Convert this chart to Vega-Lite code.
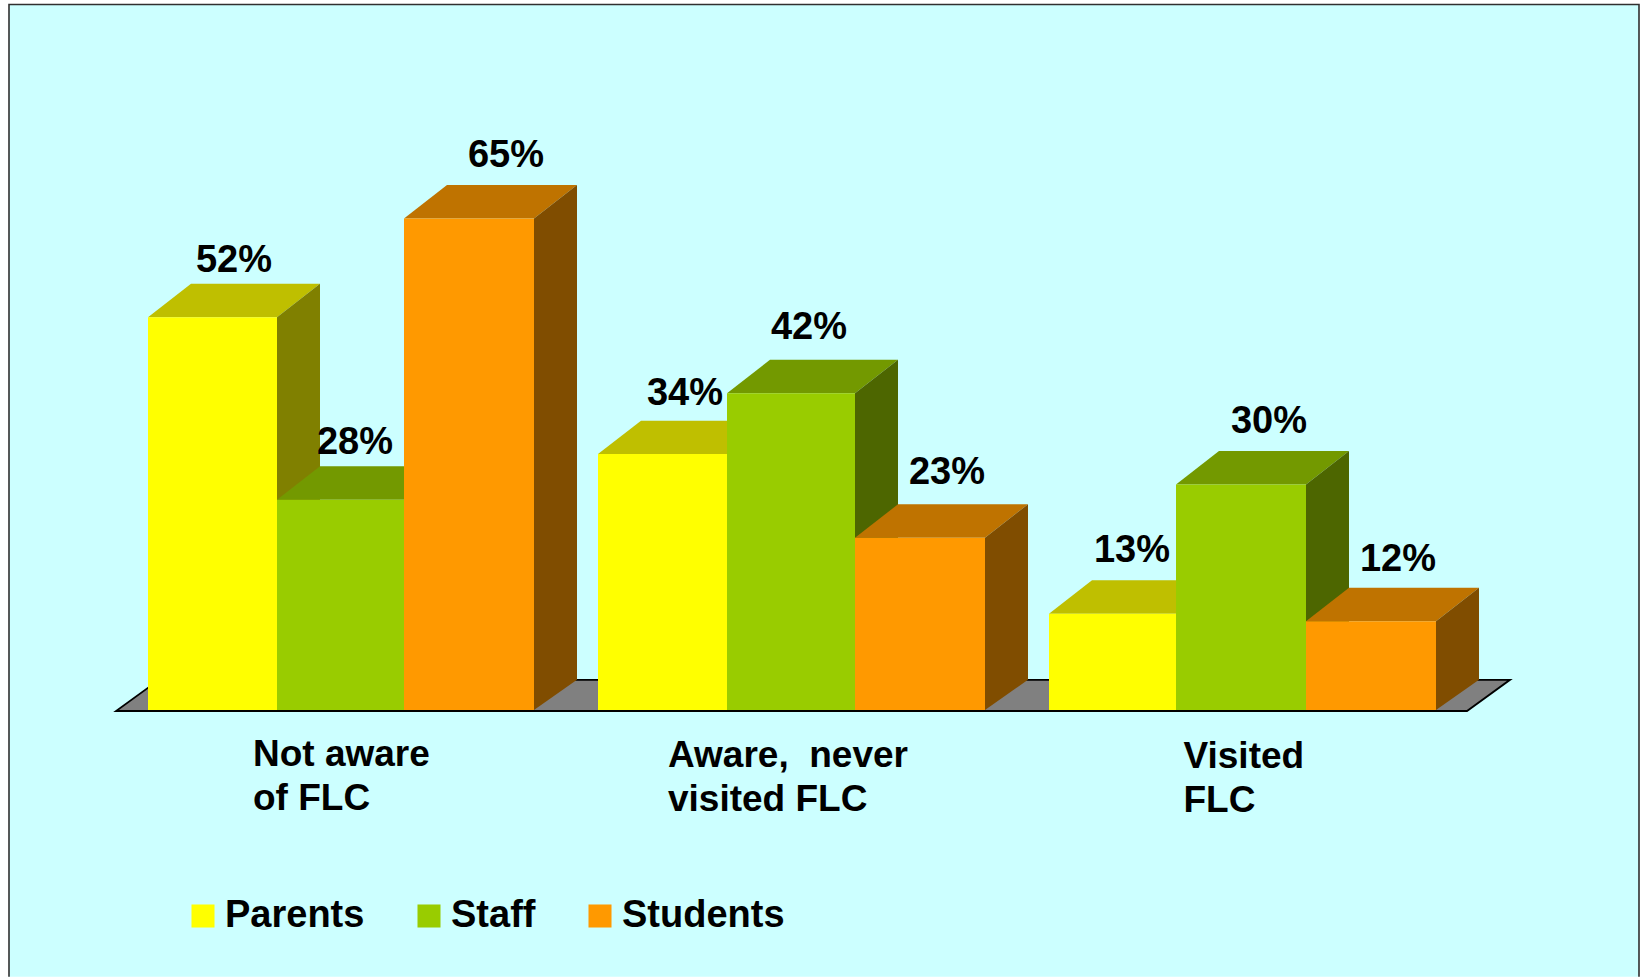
{
"$schema":"https://vega.github.io/schema/vega-lite/v6.json",
"autosize":{"type":"none"},
"width":1643,"height":977,"padding":0,"background":"#ffffff",
"config":{"view":{"stroke":null}},
"datasets":{
"frame":[{"x":0.09,"x2":16.39,"y":-34.76,"y2":93.16}],
"border":[{"seq":1,"x":0.09,"y":-34.76},{"seq":2,"x":0.09,"y":93.16},{"seq":3,"x":16.39,"y":93.16},{"seq":4,"x":16.39,"y":-34.76}],
"floor":[{"x":1.16,"y":0.2,"y2":0.2},{"x":1.59,"y":0.2,"y2":4.3},{"x":14.67,"y":0.2,"y2":4.3},{"x":15.1,"y":4.3,"y2":4.3}],
"bars":[
{"group":"Not aware of FLC","series":"Parents","value":52,"label":"52%","x0":1.48,"x1":2.77,"labelX":2.34,"labelY":58.0},
{"group":"Not aware of FLC","series":"Staff","value":28,"label":"28%","x0":2.77,"x1":4.04,"labelX":3.55,"labelY":34.0},
{"group":"Not aware of FLC","series":"Students","value":65,"label":"65%","x0":4.04,"x1":5.34,"labelX":5.06,"labelY":71.8},
{"group":"Aware, never visited FLC","series":"Parents","value":34,"label":"34%","x0":5.98,"x1":7.27,"labelX":6.85,"labelY":40.5},
{"group":"Aware, never visited FLC","series":"Staff","value":42,"label":"42%","x0":7.27,"x1":8.55,"labelX":8.09,"labelY":49.15},
{"group":"Aware, never visited FLC","series":"Students","value":23,"label":"23%","x0":8.55,"x1":9.85,"labelX":9.47,"labelY":30.07},
{"group":"Visited FLC","series":"Parents","value":13,"label":"13%","x0":10.49,"x1":11.76,"labelX":11.32,"labelY":19.8},
{"group":"Visited FLC","series":"Staff","value":30,"label":"30%","x0":11.76,"x1":13.06,"labelX":12.69,"labelY":36.8},
{"group":"Visited FLC","series":"Students","value":12,"label":"12%","x0":13.06,"x1":14.36,"labelX":13.98,"labelY":18.66}
],
"categories":[
{"text":"Not aware\nof FLC","x":2.53,"y":-7.04},
{"text":"Aware, \u00a0never\nvisited FLC","x":6.68,"y":-7.17},
{"text":"Visited\nFLC","x":11.835,"y":-7.3}
],
"faces":[
{"id":"p1t","shade":"Parents top","x":1.48,"y":52,"y2":52},{"id":"p1t","shade":"Parents top","x":1.91,"y":52,"y2":56.4},{"id":"p1t","shade":"Parents top","x":2.77,"y":52,"y2":56.4},{"id":"p1t","shade":"Parents top","x":3.2,"y":56.4,"y2":56.4},
{"id":"p1s","shade":"Parents side","x":2.77,"y":0.33,"y2":52},{"id":"p1s","shade":"Parents side","x":3.2,"y":4.3,"y2":56.4},
{"id":"p2t","shade":"Parents top","x":5.98,"y":34,"y2":34},{"id":"p2t","shade":"Parents top","x":6.41,"y":34,"y2":38.4},{"id":"p2t","shade":"Parents top","x":7.27,"y":34,"y2":38.4},{"id":"p2t","shade":"Parents top","x":7.7,"y":38.4,"y2":38.4},
{"id":"p2s","shade":"Parents side","x":7.27,"y":0.33,"y2":34},{"id":"p2s","shade":"Parents side","x":7.7,"y":4.3,"y2":38.4},
{"id":"p3t","shade":"Parents top","x":10.49,"y":13,"y2":13},{"id":"p3t","shade":"Parents top","x":10.92,"y":13,"y2":17.4},{"id":"p3t","shade":"Parents top","x":11.76,"y":13,"y2":17.4},{"id":"p3t","shade":"Parents top","x":12.19,"y":17.4,"y2":17.4},
{"id":"p3s","shade":"Parents side","x":11.76,"y":0.33,"y2":13},{"id":"p3s","shade":"Parents side","x":12.19,"y":4.3,"y2":17.4},
{"id":"s1t","shade":"Staff top","x":2.77,"y":28,"y2":28},{"id":"s1t","shade":"Staff top","x":3.2,"y":28,"y2":32.4},{"id":"s1t","shade":"Staff top","x":4.04,"y":28,"y2":32.4},{"id":"s1t","shade":"Staff top","x":4.47,"y":32.4,"y2":32.4},
{"id":"s1s","shade":"Staff side","x":4.04,"y":0.33,"y2":28},{"id":"s1s","shade":"Staff side","x":4.47,"y":4.3,"y2":32.4},
{"id":"s2t","shade":"Staff top","x":7.27,"y":42,"y2":42},{"id":"s2t","shade":"Staff top","x":7.7,"y":42,"y2":46.4},{"id":"s2t","shade":"Staff top","x":8.55,"y":42,"y2":46.4},{"id":"s2t","shade":"Staff top","x":8.98,"y":46.4,"y2":46.4},
{"id":"s2s","shade":"Staff side","x":8.55,"y":0.33,"y2":42},{"id":"s2s","shade":"Staff side","x":8.98,"y":4.3,"y2":46.4},
{"id":"s3t","shade":"Staff top","x":11.76,"y":30,"y2":30},{"id":"s3t","shade":"Staff top","x":12.19,"y":30,"y2":34.4},{"id":"s3t","shade":"Staff top","x":13.06,"y":30,"y2":34.4},{"id":"s3t","shade":"Staff top","x":13.49,"y":34.4,"y2":34.4},
{"id":"s3s","shade":"Staff side","x":13.06,"y":0.33,"y2":30},{"id":"s3s","shade":"Staff side","x":13.49,"y":4.3,"y2":34.4},
{"id":"t1t","shade":"Students top","x":4.04,"y":65,"y2":65},{"id":"t1t","shade":"Students top","x":4.47,"y":65,"y2":69.4},{"id":"t1t","shade":"Students top","x":5.34,"y":65,"y2":69.4},{"id":"t1t","shade":"Students top","x":5.77,"y":69.4,"y2":69.4},
{"id":"t1s","shade":"Students side","x":5.34,"y":0.33,"y2":65},{"id":"t1s","shade":"Students side","x":5.77,"y":4.3,"y2":69.4},
{"id":"t2t","shade":"Students top","x":8.55,"y":23,"y2":23},{"id":"t2t","shade":"Students top","x":8.98,"y":23,"y2":27.4},{"id":"t2t","shade":"Students top","x":9.85,"y":23,"y2":27.4},{"id":"t2t","shade":"Students top","x":10.28,"y":27.4,"y2":27.4},
{"id":"t2s","shade":"Students side","x":9.85,"y":0.33,"y2":23},{"id":"t2s","shade":"Students side","x":10.28,"y":4.3,"y2":27.4},
{"id":"t3t","shade":"Students top","x":13.06,"y":12,"y2":12},{"id":"t3t","shade":"Students top","x":13.49,"y":12,"y2":16.4},{"id":"t3t","shade":"Students top","x":14.36,"y":12,"y2":16.4},{"id":"t3t","shade":"Students top","x":14.79,"y":16.4,"y2":16.4},
{"id":"t3s","shade":"Students side","x":14.36,"y":0.33,"y2":12},{"id":"t3s","shade":"Students side","x":14.79,"y":4.3,"y2":16.4}
]
},
"resolve":{"scale":{"color":"independent"}},
"layer":[
{"data":{"name":"frame"},"mark":{"type":"rect","fill":"#CCFFFF"},
 "encoding":{"x":{"field":"x","type":"quantitative","scale":{"domain":[0,16.43],"nice":false,"zero":false},"axis":null},"x2":{"field":"x2"},
 "y":{"field":"y","type":"quantitative","scale":{"domain":[-34.8,93.75],"nice":false,"zero":false},"axis":null},"y2":{"field":"y2"}}},
{"data":{"name":"border"},"mark":{"type":"line","stroke":"#303030","strokeWidth":1.6},
 "encoding":{"x":{"field":"x","type":"quantitative"},"y":{"field":"y","type":"quantitative"},"order":{"field":"seq","type":"quantitative"}}},
{"data":{"name":"floor"},"mark":{"type":"area","fill":"#808080","stroke":"#000000","strokeWidth":1.8},
 "encoding":{"x":{"field":"x","type":"quantitative"},"y":{"field":"y","type":"quantitative"},"y2":{"field":"y2"}}},
{"data":{"name":"faces"},"mark":{"type":"area"},
 "encoding":{"x":{"field":"x","type":"quantitative"},"y":{"field":"y","type":"quantitative"},"y2":{"field":"y2"},
 "detail":{"field":"id"},
 "color":{"field":"shade","type":"nominal","legend":null,"scale":{"domain":["Parents top","Parents side","Staff top","Staff side","Students top","Students side"],"range":["#BFBF00","#808000","#739900","#4D6600","#BF7300","#804D00"]}}}},
{"data":{"name":"bars"},"mark":{"type":"rect"},
 "encoding":{"x":{"field":"x0","type":"quantitative"},"x2":{"field":"x1"},"y":{"field":"value","type":"quantitative"},"y2":{"datum":0.33},
 "color":{"field":"series","type":"nominal","scale":{"domain":["Parents","Staff","Students"],"range":["#FFFF00","#99CC00","#FF9900"]},
  "legend":{"title":null,"orient":"none","legendX":184,"legendY":897,"direction":"horizontal","columns":3,"symbolType":"square","symbolSize":530,"symbolStrokeWidth":0,"labelFont":"Liberation Sans","labelFontSize":38,"labelFontWeight":"bold","labelColor":"#000000","labelOffset":3,"columnPadding":45,"labelLimit":400}}}},
{"data":{"name":"bars"},"mark":{"type":"text","font":"Liberation Sans","fontWeight":"bold","fontSize":38,"color":"#000000","align":"center","baseline":"alphabetic"},
 "encoding":{"x":{"field":"labelX","type":"quantitative"},"y":{"field":"labelY","type":"quantitative"},"text":{"field":"label"}}},
{"data":{"name":"categories"},"mark":{"type":"text","font":"Liberation Sans","fontWeight":"bold","fontSize":37,"color":"#000000","align":"left","baseline":"alphabetic","lineBreak":"\n","lineHeight":44},
 "encoding":{"x":{"field":"x","type":"quantitative"},"y":{"field":"y","type":"quantitative"},"text":{"field":"text"}}}
]
}
